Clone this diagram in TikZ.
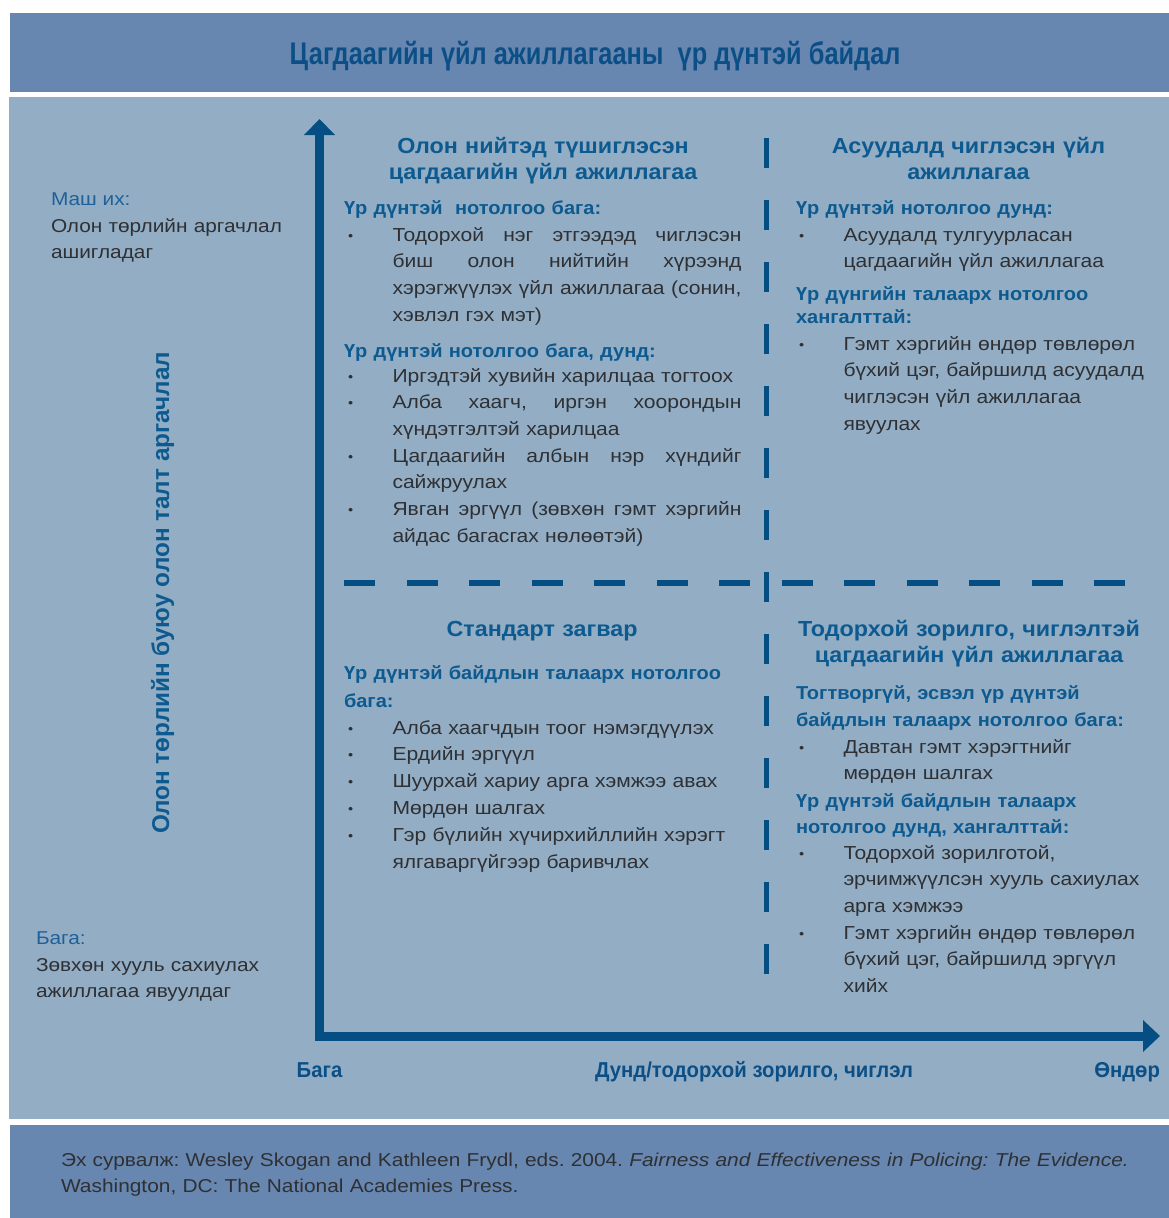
\documentclass[tikz,border=0pt]{standalone}
\usepackage{fontspec}
\setmainfont{Liberation Sans}
\newfontfamily\bodyfam{Liberation Sans}[FakeStretch=1.12]
\newfontfamily\headfam{Liberation Sans}[FakeStretch=1.07]
\newfontfamily\condfont{Liberation Sans}[FakeStretch=0.81]
\newfontfamily\axfont{Liberation Sans}[FakeStretch=0.94]
\definecolor{bandc}{HTML}{6887B0}
\definecolor{panelc}{HTML}{93AEC4}
\definecolor{axisc}{HTML}{054E84}
\definecolor{headc}{HTML}{0D5A90}
\definecolor{titlec}{HTML}{0B4F86}
\definecolor{labc}{HTML}{1F609A}
\definecolor{bodyc}{HTML}{2E3034}
\newcommand\qb{\makebox[44.5pt][l]{\fontsize{13}{13}\selectfont\raisebox{1pt}{•}}}
\newcommand\qi{\hspace*{44.5pt}}
\newcommand\qj[1]{\makebox[349pt][s]{\spaceskip=0.25em plus 1fil\relax #1}}
\frenchspacing
\begin{document}
\frenchspacing
\begin{tikzpicture}[x=1pt,y=-1pt,
  txt/.style={inner sep=0pt, outer sep=0pt},
  items/.style={txt, anchor=base west, text width=420pt, align=left, text=bodyc, font=\bodyfam\fontsize{18.8}{26.7}\selectfont},
  head/.style={txt, anchor=base west, text width=420pt, align=left, text=headc, font=\headfam\bfseries\fontsize{18.7}{26.7}\selectfont},
  qtitle/.style={txt, anchor=base, text width=420pt, align=center, text=headc, font=\headfam\bfseries\fontsize{21.8}{26.5}\selectfont},
  lablue/.style={txt, anchor=base west, text=labc, font=\bodyfam\fontsize{18.6}{26.5}\selectfont},
  labtxt/.style={txt, anchor=base west, text width=300pt, align=left, text=bodyc, font=\bodyfam\fontsize{18.6}{26.5}\selectfont},
  axlab/.style={txt, anchor=base, text=titlec, font=\axfont\bfseries\fontsize{21.6}{24}\selectfont},
  dashline/.style={draw=axisc, line cap=butt},
]
\useasboundingbox (0,0) rectangle (1169,1218);
\fill[white] (0,0) rectangle (1169,1218);
\fill[bandc] (10,13) rectangle (1169,92);
\fill[panelc] (9,97) rectangle (1169,1119);
\fill[bandc] (10,1125) rectangle (1169,1218);

\node[txt, anchor=base, text=titlec, font=\condfont\bfseries\fontsize{31.3}{34}\selectfont] (title) at (595,64) {Цагдаагийн үйл ажиллагааны~ үр дүнтэй байдал};

% dashed separators
\coordinate (vdT) at (766.5,138);
\coordinate (vdB) at (766.5,975);
\draw[dashline, line width=5.5pt, dash pattern=on 30pt off 32pt] (vdT) -- (vdB);
\coordinate (hdL) at (344,583);
\coordinate (hdR) at (1127,583);
\draw[dashline, line width=6pt, dash pattern=on 31pt off 31.5pt] (hdL) -- (hdR);

% axes
\coordinate (O) at (319.5,1036);
\coordinate (Ytip) at (319.5,119);
\coordinate (Ybase) at (319.5,134);
\coordinate (Xtip) at (1160,1036);
\coordinate (Xbase) at (1144,1036);
\draw[axisc, line width=9pt, line join=miter] (Ybase) -- (O) -- (Xbase);
\fill[axisc] (Ytip) -- (304,135) -- (335,135) -- cycle;
\fill[axisc] (Xtip) -- (1143,1020) -- (1143,1052) -- cycle;

% left labels
\node[lablue] (mash) at (51,205) {Маш их:};
\node[labtxt] (masht) at (51,232) {Олон төрлийн аргачлал\\ашигладаг};
\node[lablue] (baga) at (36,944) {Бага:};
\node[labtxt] (bagat) at (36,971) {Зөвхөн хууль сахиулах\\ажиллагаа явуулдаг};
\node[txt, anchor=base, rotate=90, text=headc, font=\bfseries\fontsize{24.3}{26}\selectfont] (ylab) at (169,593) {Олон төрлийн буюу олон талт аргачлал};

% axis labels
\node[axlab] (xl1) at (319.5,1077) {Бага};
\node[axlab] (xl2) at (754,1077) {Дунд/тодорхой зорилго, чиглэл};
\node[axlab, anchor=base east] (xl3) at (1160,1077) {Өндөр};

% quadrant TL
\node[qtitle] (t1) at (543,153) {Олон нийтэд түшиглэсэн\\цагдаагийн үйл ажиллагаа};
\node[head] (h11) at (344,214) {Үр дүнтэй\ \ нотолгоо бага:};
\node[items] (i11) at (348,241) {\qb\qj{Тодорхой нэг этгээдэд чиглэсэн}\\\qi\qj{биш олон нийтийн хүрээнд}\\\qi\qj{хэрэгжүүлэх үйл ажиллагаа (сонин,}\\\qi хэвлэл гэх мэт)};
\node[head] (h12) at (344,357) {Үр дүнтэй нотолгоо бага, дунд:};
\node[items] (i12) at (348,382) {\qb Иргэдтэй хувийн харилцаа тогтоох\\\qb\qj{Алба хаагч, иргэн хоорондын}\\\qi хүндэтгэлтэй харилцаа\\\qb\qj{Цагдаагийн албын нэр хүндийг}\\\qi сайжруулах\\\qb\qj{Явган эргүүл (зөвхөн гэмт хэргийн}\\\qi айдас багасгах нөлөөтэй)};

% quadrant TR
\node[qtitle] (t2) at (968.5,153) {Асуудалд чиглэсэн үйл\\ажиллагаа};
\node[head] (h21) at (796,214) {Үр дүнтэй нотолгоо дунд:};
\node[items] (i21) at (799,241) {\qb Асуудалд тулгуурласан\\\qi цагдаагийн үйл ажиллагаа};
\node[head, font=\headfam\bfseries\fontsize{18.7}{23.5}\selectfont] (h22) at (796,300) {Үр дүнгийн талаарх нотолгоо\\хангалттай:};
\node[items] (i22) at (799,350) {\qb Гэмт хэргийн өндөр төвлөрөл\\\qi бүхий цэг, байршилд асуудалд\\\qi чиглэсэн үйл ажиллагаа\\\qi явуулах};

% quadrant BL
\node[qtitle] (t3) at (542,636) {Стандарт загвар};
\node[head, font=\headfam\bfseries\fontsize{18.7}{28}\selectfont] (h31) at (344,679) {Үр дүнтэй байдлын талаарх нотолгоо\\бага:};
\node[items, font=\bodyfam\fontsize{18.8}{26.8}\selectfont] (i31) at (348,734) {\qb Алба хаагчдын тоог нэмэгдүүлэх\\\qb Ердийн эргүүл\\\qb Шуурхай хариу арга хэмжээ авах\\\qb Мөрдөн шалгах\\\qb Гэр бүлийн хүчирхийллийн хэрэгт\\\qi ялгаваргүйгээр баривчлах};

% quadrant BR
\node[qtitle] (t4) at (969,636) {Тодорхой зорилго, чиглэлтэй\\цагдаагийн үйл ажиллагаа};
\node[head, font=\headfam\bfseries\fontsize{18.7}{27}\selectfont] (h41) at (796,699) {Тогтворгүй, эсвэл үр дүнтэй\\байдлын талаарх нотолгоо бага:};
\node[items] (i41) at (799,753) {\qb Давтан гэмт хэрэгтнийг\\\qi мөрдөн шалгах};
\node[head, font=\headfam\bfseries\fontsize{18.7}{26}\selectfont] (h42) at (796,807) {Үр дүнтэй байдлын талаарх\\нотолгоо дунд, хангалттай:};
\node[items] (i42) at (799,859) {\qb Тодорхой зорилготой,\\\qi эрчимжүүлсэн хууль сахиулах\\\qi арга хэмжээ\\\qb Гэмт хэргийн өндөр төвлөрөл\\\qi бүхий цэг, байршилд эргүүл\\\qi хийх};

% footer
\node[txt, anchor=base west, text width=1100pt, align=left, text=bodyc, font=\bodyfam\fontsize{18.65}{26}\selectfont] (foot) at (61,1166) {\frenchspacing Эх сурвалж: Wesley Skogan and Kathleen Frydl, eds. 2004. \textit{Fairness and Effectiveness in Policing: The Evidence.}\\Washington, DC: The National Academies Press.};
\end{tikzpicture}
\end{document}
